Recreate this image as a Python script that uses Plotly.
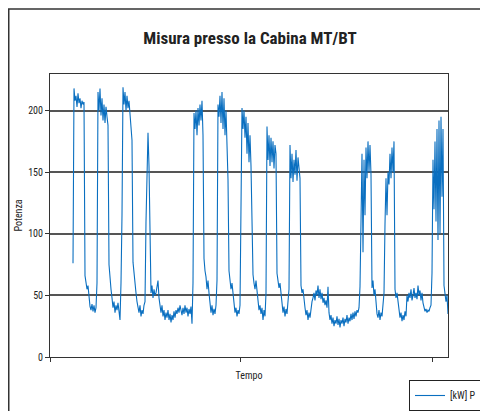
import plotly.graph_objects as go

# Potenza [kW], one sample per time step
potenza = [
    76, 218, 208, 212, 203, 214, 206, 210, 202, 208, 205, 207,            # 73-84
    66, 60, 55, 58, 46, 41, 38, 43, 37, 42, 36, 40, 60,                   # 85-97
    215, 200, 218, 196, 210, 192, 205, 190, 203, 195, 188,                # 98-108
    75, 60, 55, 48, 40, 45, 36, 42, 38, 44, 35, 30, 60, 115,              # 109-122
    219, 205, 215, 200, 212, 202, 208, 196, 182, 176,                     # 123-132
    77, 66, 58, 52, 45, 40, 36, 42, 33, 38, 35, 42, 45,                   # 133-145
    110, 150, 182, 155, 105,                                              # 146-150
    52, 58, 48, 55, 50, 52, 60, 62, 48, 40, 36, 42, 33, 38, 30, 36,       # 151-166
    32, 38, 30, 35, 28, 34, 30, 37, 32, 38, 35, 40, 36, 42,               # 167-180
    38, 34, 40, 35, 42, 36, 40, 33, 39, 35, 41, 27, 60,                   # 181-193
    198, 185, 200, 180, 202, 188, 205, 192, 208, 180,                     # 194-203
    80, 70, 65, 55, 62, 52, 40, 36, 42, 34, 39, 35, 42, 62,               # 204-217
    205, 195, 212, 190, 215, 185, 210, 180, 200, 178, 144,                # 218-228
    70, 62, 55, 60, 50, 42, 36, 40, 33, 38, 35, 42, 109,                  # 229-241
    202, 185, 200, 178, 195, 165, 190, 158, 180, 155, 120,                # 242-252
    67, 60, 55, 62, 52, 45, 38, 42, 35, 40, 30, 38, 33, 52,               # 253-266
    187, 160, 180, 155, 178, 158, 175, 153, 172, 165,                     # 267-276
    68, 62, 56, 60, 50, 42, 36, 41, 33, 39, 35, 45, 55,                   # 277-289
    172, 145, 165, 142, 160, 148, 168, 143, 162, 150, 145,                # 290-300
    58, 52, 55, 45, 40, 34, 38, 30, 36, 32, 40,                           # 301-311
    45, 48, 52, 46, 54, 50, 58, 48, 55, 47, 52, 44, 48, 42, 46, 40, 57,   # 312-328
    36, 30, 34, 27, 32, 25, 30, 27, 33, 26, 31, 24, 30, 27, 32,           # 329-343
    25, 31, 28, 34, 27, 32, 29, 35, 30, 36, 31, 37, 33, 38, 36, 40, 57,   # 344-360
    110, 165, 85, 160, 115, 170, 145, 175, 150, 172, 148,                 # 361-371
    56, 62, 50, 55, 40, 35, 32, 38, 30, 36, 33, 40, 52,                   # 372-384
    108, 145, 115, 150, 140, 165, 145, 170, 150, 175,                     # 385-394
    55, 48, 52, 45, 38, 32, 36, 29, 34, 30, 37, 33,                       # 395-406
    50, 45, 52, 48, 55, 46, 50, 56, 48, 52, 47, 58, 50, 54, 46, 52,       # 407-422
    44, 40, 37, 39, 36, 38, 37, 40, 42, 68,                               # 423-432
    160, 120, 175, 110, 185, 95, 192, 100, 195, 130, 185,                 # 433-443
    58, 52, 45, 50, 35,                                                   # 444-448
]
tempo = list(range(len(potenza)))

y_ticks = [0, 50, 100, 150, 200]
x_ticks = [-23, 167, 359]

FONT = "Roboto Condensed, Liberation Sans Narrow, Arial Narrow, Liberation Sans, sans-serif"

# figure is drawn inside the page's default 8px body margin
W, H = 480, 403
L, T, PW, PH = 42, 66, 398, 283

fig = go.Figure()
fig.add_trace(go.Scatter(
    x=tempo, y=potenza, mode="lines", name="[kW] P",
    line=dict(color="#0a6fc0", width=1.1),
))

fig.update_layout(
    width=W, height=H,
    margin=dict(l=L, r=W - L - PW, t=T, b=H - T - PH, autoexpand=False),
    paper_bgcolor="white", plot_bgcolor="white",
    font=dict(family=FONT, size=10, color="#222"),
    title=dict(text="<b>Misura presso la Cabina MT/BT</b>",
               x=(242 - L) / PW, xref="paper", xanchor="center",
               y=1 - 30 / H, yanchor="middle",
               font=dict(family=FONT, size=17, color="#222")),
    showlegend=True,
    legend=dict(x=(474 - L) / PW, xanchor="right", y=(T + PH - 372) / PH, yanchor="top",
                bordercolor="#222", borderwidth=1, bgcolor="white",
                font=dict(family=FONT, size=10, color="#222"),
                itemwidth=30, tracegroupgap=0),
)

fig.update_xaxes(
    range=[-23, 375], tickvals=x_ticks, ticktext=["", "", ""],
    ticks="outside", ticklen=4, tickcolor="#333",
    showgrid=False, zeroline=False,
    showline=True, linecolor="#333", linewidth=1, mirror=True,
    title=dict(text="Tempo", standoff=8, font=dict(family=FONT, size=10, color="#222")),
)
fig.update_yaxes(
    range=[0, 229.7], tickvals=y_ticks,
    ticks="outside", ticklen=4, tickcolor="#333",
    showgrid=True, gridcolor="#555", gridwidth=1.5, zeroline=False,
    showline=True, linecolor="#333", linewidth=1, mirror=True,
    title=dict(text="Potenza", standoff=3, font=dict(family=FONT, size=10, color="#222")),
)

# outer chart frame
fig.add_shape(type="rect", xref="paper", yref="paper",
              x0=(0.75 - L) / PW, x1=(479 - L) / PW,
              y0=(T + PH - 410) / PH, y1=(T + PH - 1) / PH,
              line=dict(color="#333", width=1.5), fillcolor="rgba(0,0,0,0)", layer="below")

fig.write_html("out.html")
